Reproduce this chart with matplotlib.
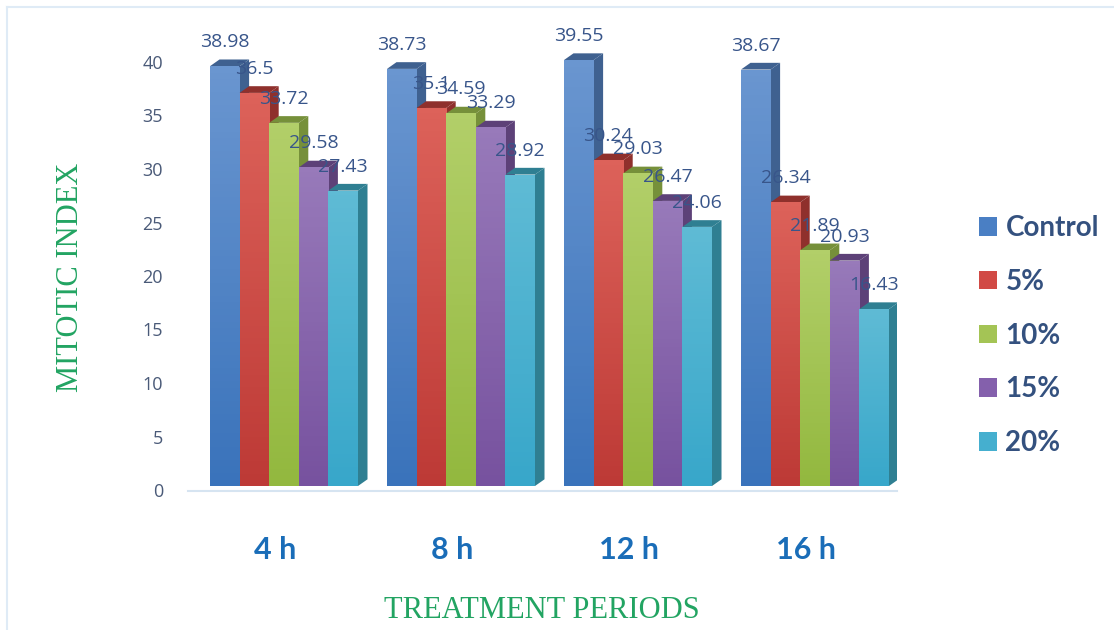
import numpy as np
import matplotlib
matplotlib.use('Agg')
import matplotlib.pyplot as plt
from matplotlib.lines import Line2D
from matplotlib.patches import Patch, Polygon
from matplotlib.colors import LinearSegmentedColormap

periods = ['4 h', '8 h', '12 h', '16 h']
series = ['Control', '5%', '10%', '15%', '20%']
control = [38.98, 38.73, 39.55, 38.67]
conc_5 = [36.5, 35.1, 30.24, 26.34]
conc_10 = [33.72, 34.59, 29.03, 21.89]
conc_15 = [29.58, 33.29, 26.47, 20.93]
conc_20 = [27.43, 28.92, 24.06, 16.43]
y_ticks = [0, 5, 10, 15, 20, 25, 30, 35, 40]

# top of front face, bottom of front face, side and lid shade
top_colors = ['#6A96D0', '#DD625A', '#B2CF69', '#987ABA', '#5FBBD5']
bottom_colors = ['#3A73BB', '#BD3A36', '#93B83F', '#77529F', '#38A7CA']
side_colors = ['#3F6190', '#8F302C', '#76903A', '#5D4178', '#2F7F92']

W, H = 1114, 630
PX_X = 177.0    # pixels per group
PX_Y = 10.77    # pixels per unit of index
X0 = 284.0      # pixel centre of the first group
Y0 = 486.0      # pixel row of zero
BAR_W = 29.6 / PX_X
DX = 9.5 / PX_X
DY = 6.7 / PX_Y

fig = plt.figure(figsize=(W / 100, H / 100), dpi=100)
left, right, bottom, top = 188, 897, 490.5, 20
ax = fig.add_axes([left / W, 1 - bottom / H, (right - left) / W, (bottom - top) / H])

label_font = {'family': 'Open Sans', 'size': 14, 'color': '#38558A'}
x = np.arange(len(periods))
all_values = [control, conc_5, conc_10, conc_15, conc_20]

for i, values in enumerate(all_values):
    cmap = LinearSegmentedColormap.from_list('face', [bottom_colors[i], top_colors[i]])
    grad = np.linspace(1, 0, 64).reshape(-1, 1)
    xpos = x + (i - 2) * BAR_W
    z = 2 + i * 3
    bars = ax.bar(xpos, values, BAR_W, color=bottom_colors[i], zorder=z + 2, linewidth=0)
    for bar, xc, v in zip(bars, xpos, values):
        xl, xr = xc - BAR_W / 2, xc + BAR_W / 2
        # right side and lid of the fake 3d column
        ax.add_patch(Polygon([(xr, 0), (xr + DX, DY), (xr + DX, v + DY), (xr, v)],
                             facecolor=side_colors[i], edgecolor='none', zorder=z))
        ax.add_patch(Polygon([(xl, v), (xl + DX, v + DY), (xr + DX, v + DY), (xr, v)],
                             facecolor=side_colors[i], edgecolor='none', zorder=z + 1))
        im = ax.imshow(grad, extent=(xl, xr, 0, v), aspect='auto', cmap=cmap,
                       vmin=0, vmax=1, zorder=z + 2.5)
        im.set_clip_path(bar)
        ax.annotate(str(v), (xc, v), xytext=(0, 24 * 0.72), textcoords='offset points',
                    ha='center', va='center', zorder=40, **label_font)

ax.set_xlim((left - X0) / PX_X, (right - X0) / PX_X)
ax.set_ylim((Y0 - bottom) / PX_Y, (Y0 - top) / PX_Y)

# tick labels sit on the back wall of the chart, a little off the front faces
ax.set_yticks([(Y0 - (490 - t * 10.7)) / PX_Y for t in y_ticks], labels=y_ticks,
              fontfamily='Open Sans', fontsize=13, color='#4A5A78')
ax.set_xticks(x - 9 / PX_X, labels=periods, fontfamily='Lato', fontweight='bold',
              fontsize=22, color='#1A6DB8')
ax.tick_params(axis='y', length=0, pad=18)
ax.tick_params(axis='x', length=0, pad=32.5)

for side in ['top', 'left', 'right']:
    ax.spines[side].set_visible(False)
ax.spines['bottom'].set_color('#D6E4F1')
ax.spines['bottom'].set_linewidth(1.5)

green = '#22A462'
ax.set_xlabel('TREATMENT PERIODS', fontfamily='Liberation Serif', fontsize=22, color=green)
ax.xaxis.set_label_coords(542 / W, 1 - 611 / H, transform=fig.transFigure)
ax.xaxis.label.set_verticalalignment('center')
ax.set_ylabel('MITOTIC INDEX', fontfamily='Liberation Serif', fontsize=22, color=green)
ax.yaxis.set_label_coords(70 / W, 1 - 277 / H, transform=fig.transFigure)
ax.yaxis.label.set_verticalalignment('center')

handles = [Patch(facecolor=c) for c in ['#4A7FC4', '#D14A45', '#A4C455', '#8460AC', '#45AFCF']]
fig.legend(handles, series, loc='upper left', bbox_to_anchor=(979 / W, 1 - 215 / H),
           frameon=False, handlelength=0.65, handleheight=0.65, handletextpad=0.3,
           labelspacing=1.0, borderpad=0, borderaxespad=0,
           prop={'family': 'Lato', 'weight': 'bold', 'size': 20}, labelcolor='#34517F')

# pale frame along the top and left of the panel
frame = '#DFEBF6'
fig.add_artist(Line2D([7 / W, 7 / W], [0, 1 - 6.5 / H], color=frame, lw=1.5))
fig.add_artist(Line2D([7 / W, 1], [1 - 6.5 / H, 1 - 6.5 / H], color=frame, lw=1.5))

fig.savefig('out.png', dpi=100)
